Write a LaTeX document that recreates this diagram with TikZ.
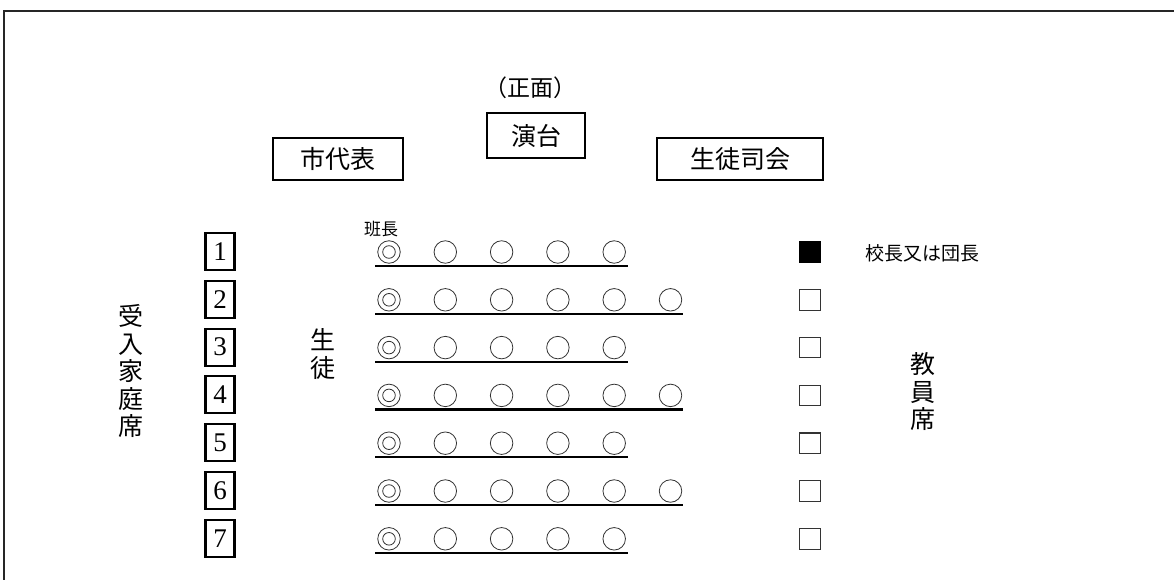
\documentclass[tikz,border=0pt]{standalone}
\usepackage{fontspec}
\newfontfamily\jp{Noto Sans CJK JP}
\newfontfamily\numfont{Liberation Serif}
\begin{document}
\begin{tikzpicture}[x=1pt,y=-1pt,
  lbl/.style={font=\jp\fontsize{25}{25}\selectfont, inner sep=0pt},
  vlbl/.style={font=\jp\fontsize{25}{27.5}\selectfont, inner sep=0pt, align=center},
  hbox/.style={draw, line width=1.9pt, inner sep=0pt, font=\jp\fontsize{25}{25}\selectfont},
  numbox/.style={draw, line width=2.1pt, minimum width=29pt, minimum height=37pt, inner sep=0pt, font=\numfont\fontsize{27}{27}\selectfont},
  seat/.style={circle, draw=black!80, line width=0.8pt, minimum size=22.5pt, inner sep=0pt},
  leader/.style={seat, path picture={\draw[black!80, line width=0.8pt] (path picture bounding box.center) circle (6.3pt);}},
  rowline/.style={line width=2.2pt},
  tseat/.style={draw=black!80, line width=1.1pt, minimum size=20.5pt, inner sep=0pt},
  tchief/.style={tseat, fill=black, draw=black}
]
\useasboundingbox (0,0) rectangle (1174,580);
\draw[line width=2pt, black!85] (4,580) -- (4,11) -- (1174,11);

\node[lbl, font=\jp\fontsize{23}{23}\selectfont] (front) at (530,88) {（正面）};
\node[hbox, minimum width=98pt, minimum height=45pt] (stage) at (536,135.5) {演台};
\node[hbox, minimum width=130pt, minimum height=42pt] (city) at (338,159) {市代表};
\node[hbox, minimum width=166pt, minimum height=42pt] (council) at (740,159) {生徒司会};

\node[lbl, font=\jp\fontsize{17}{17}\selectfont] (hancho) at (381,229) {班長};

\node[vlbl] (host) at (131,371) {受\\入\\家\\庭\\席};
\node[vlbl] (students) at (323,354) {生\\徒};
\node[vlbl] (teachers) at (923,392) {教\\員\\席};
\node[lbl, font=\jp\fontsize{19}{19}\selectfont, anchor=west] (principal) at (865,253) {校長又は団長};

\foreach \i/\n in {1/5,2/6,3/5,4/6,5/5,6/6,7/5}{
  \pgfmathsetmacro{\y}{252+(\i-1)*47.8}
  \node[numbox] (num\i) at (220,\y-0.5) {\i};
  \node[leader] (s\i-1) at (389,\y) {};
  \foreach \k in {2,...,\n}{
    \node[seat] (s\i-\k) at ({389+56.3*(\k-1)},\y) {};
  }
  \coordinate (ls\i) at (375,\y+14);
  \coordinate (le\i) at ({628+55*(\n-5)},\y+14);
  \draw[rowline] (ls\i) -- (le\i);
  \ifnum\i=1
    \node[tchief] (t\i) at (810,\y) {};
  \else
    \node[tseat] (t\i) at (810,\y) {};
  \fi
}
\end{tikzpicture}
\end{document}
